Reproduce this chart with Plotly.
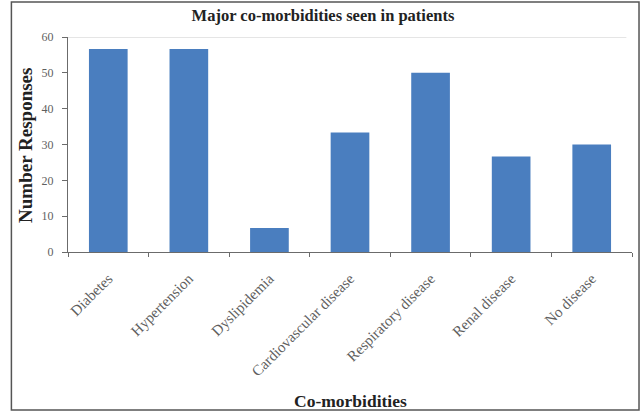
import plotly.graph_objects as go

# Share of patients reporting each co-morbidity
categories = ["Diabetes", "Hypertension", "Dyslipidemia", "Cardiovascular disease",
              "Respiratory disease", "Renal disease", "No disease"]
responses = [56.67, 56.67, 6.67, 33.33, 50.0, 26.67, 30.0]
y_ticks = [0, 10, 20, 30, 40, 50, 60]

serif = "Liberation Serif, Times New Roman, serif"
ink = "#222222"
axis_grey = "#6b6b6b"

fig = go.Figure(
    go.Bar(
        x=categories,
        y=responses,
        marker=dict(color="#4A7EBF", line=dict(width=0)),
        width=0.48,
    )
)

fig.update_layout(
    width=641,
    height=412,
    margin=dict(l=68, r=9, t=37, b=160),
    paper_bgcolor="white",
    plot_bgcolor="white",
    showlegend=False,
    title=dict(
        text="<b>Major co-morbidities seen in patients</b>",
        x=323 / 641, xref="container", xanchor="center",
        y=1 - 15 / 412, yref="container", yanchor="middle",
        font=dict(family=serif, size=16.5, color=ink),
    ),
    xaxis=dict(
        tickangle=-45,
        tickson="boundaries",
        ticks="outside",
        ticklen=4,
        tickcolor=axis_grey,
        ticklabelstandoff=11,
        showline=True,
        linecolor=axis_grey,
        linewidth=1,
        showgrid=False,
        automargin=False,
        tickfont=dict(family=serif, size=15, color="#5f5f5f"),
    ),
    yaxis=dict(
        range=[0, 60],
        tickvals=y_ticks,
        ticks="outside",
        ticklen=5,
        tickcolor=axis_grey,
        ticklabelstandoff=6,
        showline=True,
        linecolor=axis_grey,
        linewidth=1,
        showgrid=False,
        zeroline=False,
        automargin=False,
        tickfont=dict(family=serif, size=12, color="#5f5f5f"),
    ),
    annotations=[
        dict(text="<b>Co-morbidities</b>", xref="paper", yref="paper",
             x=0.5, y=(252 - 401) / 215, xanchor="center", yanchor="middle",
             showarrow=False, font=dict(family=serif, size=17.5, color=ink)),
        dict(text="<b>Number Responses</b>", xref="paper", yref="paper",
             x=(25 - 68) / 563, y=(252 - 145) / 215, xanchor="center", yanchor="middle",
             textangle=-90, showarrow=False,
             font=dict(family=serif, size=19, color=ink)),
    ],
    shapes=[
        # light rule along the top of the value axis
        dict(type="line", xref="paper", yref="y", x0=0, x1=0.99, y0=60, y1=60,
             line=dict(color="#dcdcdc", width=1.5)),
        # frame around the whole figure
        dict(type="rect", xref="paper", yref="paper",
             x0=-56.5 / 563, x1=1 + 7 / 563, y0=-158 / 215, y1=1 + 35 / 215,
             line=dict(color="#555555", width=1.5)),
    ],
)

fig.write_html("out.html")
